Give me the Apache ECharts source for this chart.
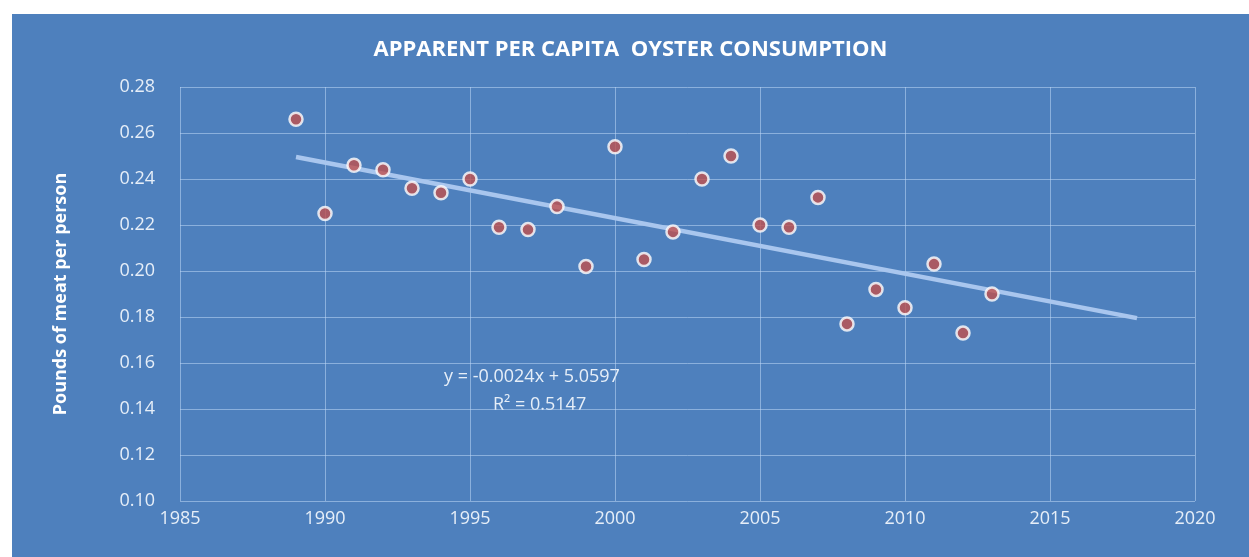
<!DOCTYPE html>
<html>
<head>
<meta charset="utf-8">
<script src="https://cdn.jsdelivr.net/npm/echarts@6/dist/echarts.min.js"></script>
<style>
  html, body { margin: 0; padding: 0; background: #fff; }
  #chart {
    position: absolute;
    left: 12px;
    top: 14px;
    width: 1237px;
    height: 543px;
    background: #4e80bd;
  }
</style>
</head>
<body>
<div id="chart"></div>
<script>
// 年份与人均消费量
const years = [1989, 1990, 1991, 1992, 1993, 1994, 1995, 1996, 1997, 1998, 1999, 2000, 2001,
  2002, 2003, 2004, 2005, 2006, 2007, 2008, 2009, 2010, 2011, 2012, 2013];
const pounds = [0.266, 0.225, 0.246, 0.244, 0.236, 0.234, 0.240, 0.219, 0.218, 0.228, 0.202, 0.254, 0.205,
  0.217, 0.240, 0.250, 0.220, 0.219, 0.232, 0.177, 0.192, 0.184, 0.203, 0.173, 0.190];
const trendRange = [1989, 2018];
const equationLines = ["y = -0.0024x + 5.0597", "R² = 0.5147"];

// 最小二乘趋势线
const n = years.length;
const mx = years.reduce((a, b) => a + b, 0) / n;
const my = pounds.reduce((a, b) => a + b, 0) / n;
let sxy = 0, sxx = 0;
for (let i = 0; i < n; i++) {
  sxy += (years[i] - mx) * (pounds[i] - my);
  sxx += (years[i] - mx) * (years[i] - mx);
}
const slope = sxy / sxx;
const intercept = my - slope * mx;
const trendData = trendRange.map((x) => [x, slope * x + intercept]);

const labelColor = "#e6eef8";
const gridColor = "rgba(190,215,245,0.55)";

const myChart = echarts.init(document.getElementById("chart"));
const option = {
  animation: false,
  title: {
    text: "APPARENT PER CAPITA  OYSTER CONSUMPTION",
    left: "center",
    top: 20,
    textStyle: {
      color: "#ffffff",
      fontFamily: "Open Sans",
      fontWeight: "bold",
      fontSize: 22,
    },
  },
  grid: {
    left: 168,
    right: 54,
    top: 73,
    bottom: 56,
  },
  xAxis: {
    type: "value",
    min: 1985,
    max: 2020,
    interval: 5,
    axisLine: { show: false },
    axisTick: { show: false },
    axisLabel: {
      color: labelColor,
      fontFamily: "Open Sans",
      fontSize: 18,
      margin: 9,
      formatter: (v) => String(v),
    },
    splitLine: { show: true, lineStyle: { color: gridColor, width: 1 } },
  },
  yAxis: {
    type: "value",
    min: 0.1,
    max: 0.28,
    interval: 0.02,
    name: "Pounds of meat per person",
    nameLocation: "middle",
    nameGap: 110,
    nameTextStyle: {
      color: "#ffffff",
      fontFamily: "Open Sans",
      fontWeight: "bold",
      fontSize: 18,
    },
    axisLine: { show: false },
    axisTick: { show: false },
    axisLabel: {
      color: labelColor,
      fontFamily: "Open Sans",
      fontSize: 18,
      margin: 25,
      formatter: (v) => v.toFixed(2),
    },
    splitLine: { show: true, lineStyle: { color: gridColor, width: 1 } },
  },
  series: [
    {
      name: "trend",
      type: "line",
      data: trendData,
      symbol: "none",
      lineStyle: { color: "#a9c6ee", width: 4.5 },
      z: 2,
    },
    {
      name: "consumption",
      type: "scatter",
      data: years.map((y, i) => [y, pounds[i]]),
      symbolSize: 13,
      itemStyle: {
        color: "#c0504d",
        borderColor: "#ffffff",
        borderWidth: 2.5,
      },
      z: 3,
    },
  ],
  graphic: [
    {
      type: "text",
      left: 432,
      top: 354,
      style: {
        text: equationLines[0],
        fill: labelColor,
        font: "18px 'Open Sans'",
      },
    },
    {
      type: "text",
      left: 481,
      top: 382,
      style: {
        text: equationLines[1],
        fill: labelColor,
        font: "18px 'Open Sans'",
      },
    },
  ],
};
myChart.setOption(option);
window.addEventListener("resize", () => {
  myChart.resize();
});
</script>
</body>
</html>
